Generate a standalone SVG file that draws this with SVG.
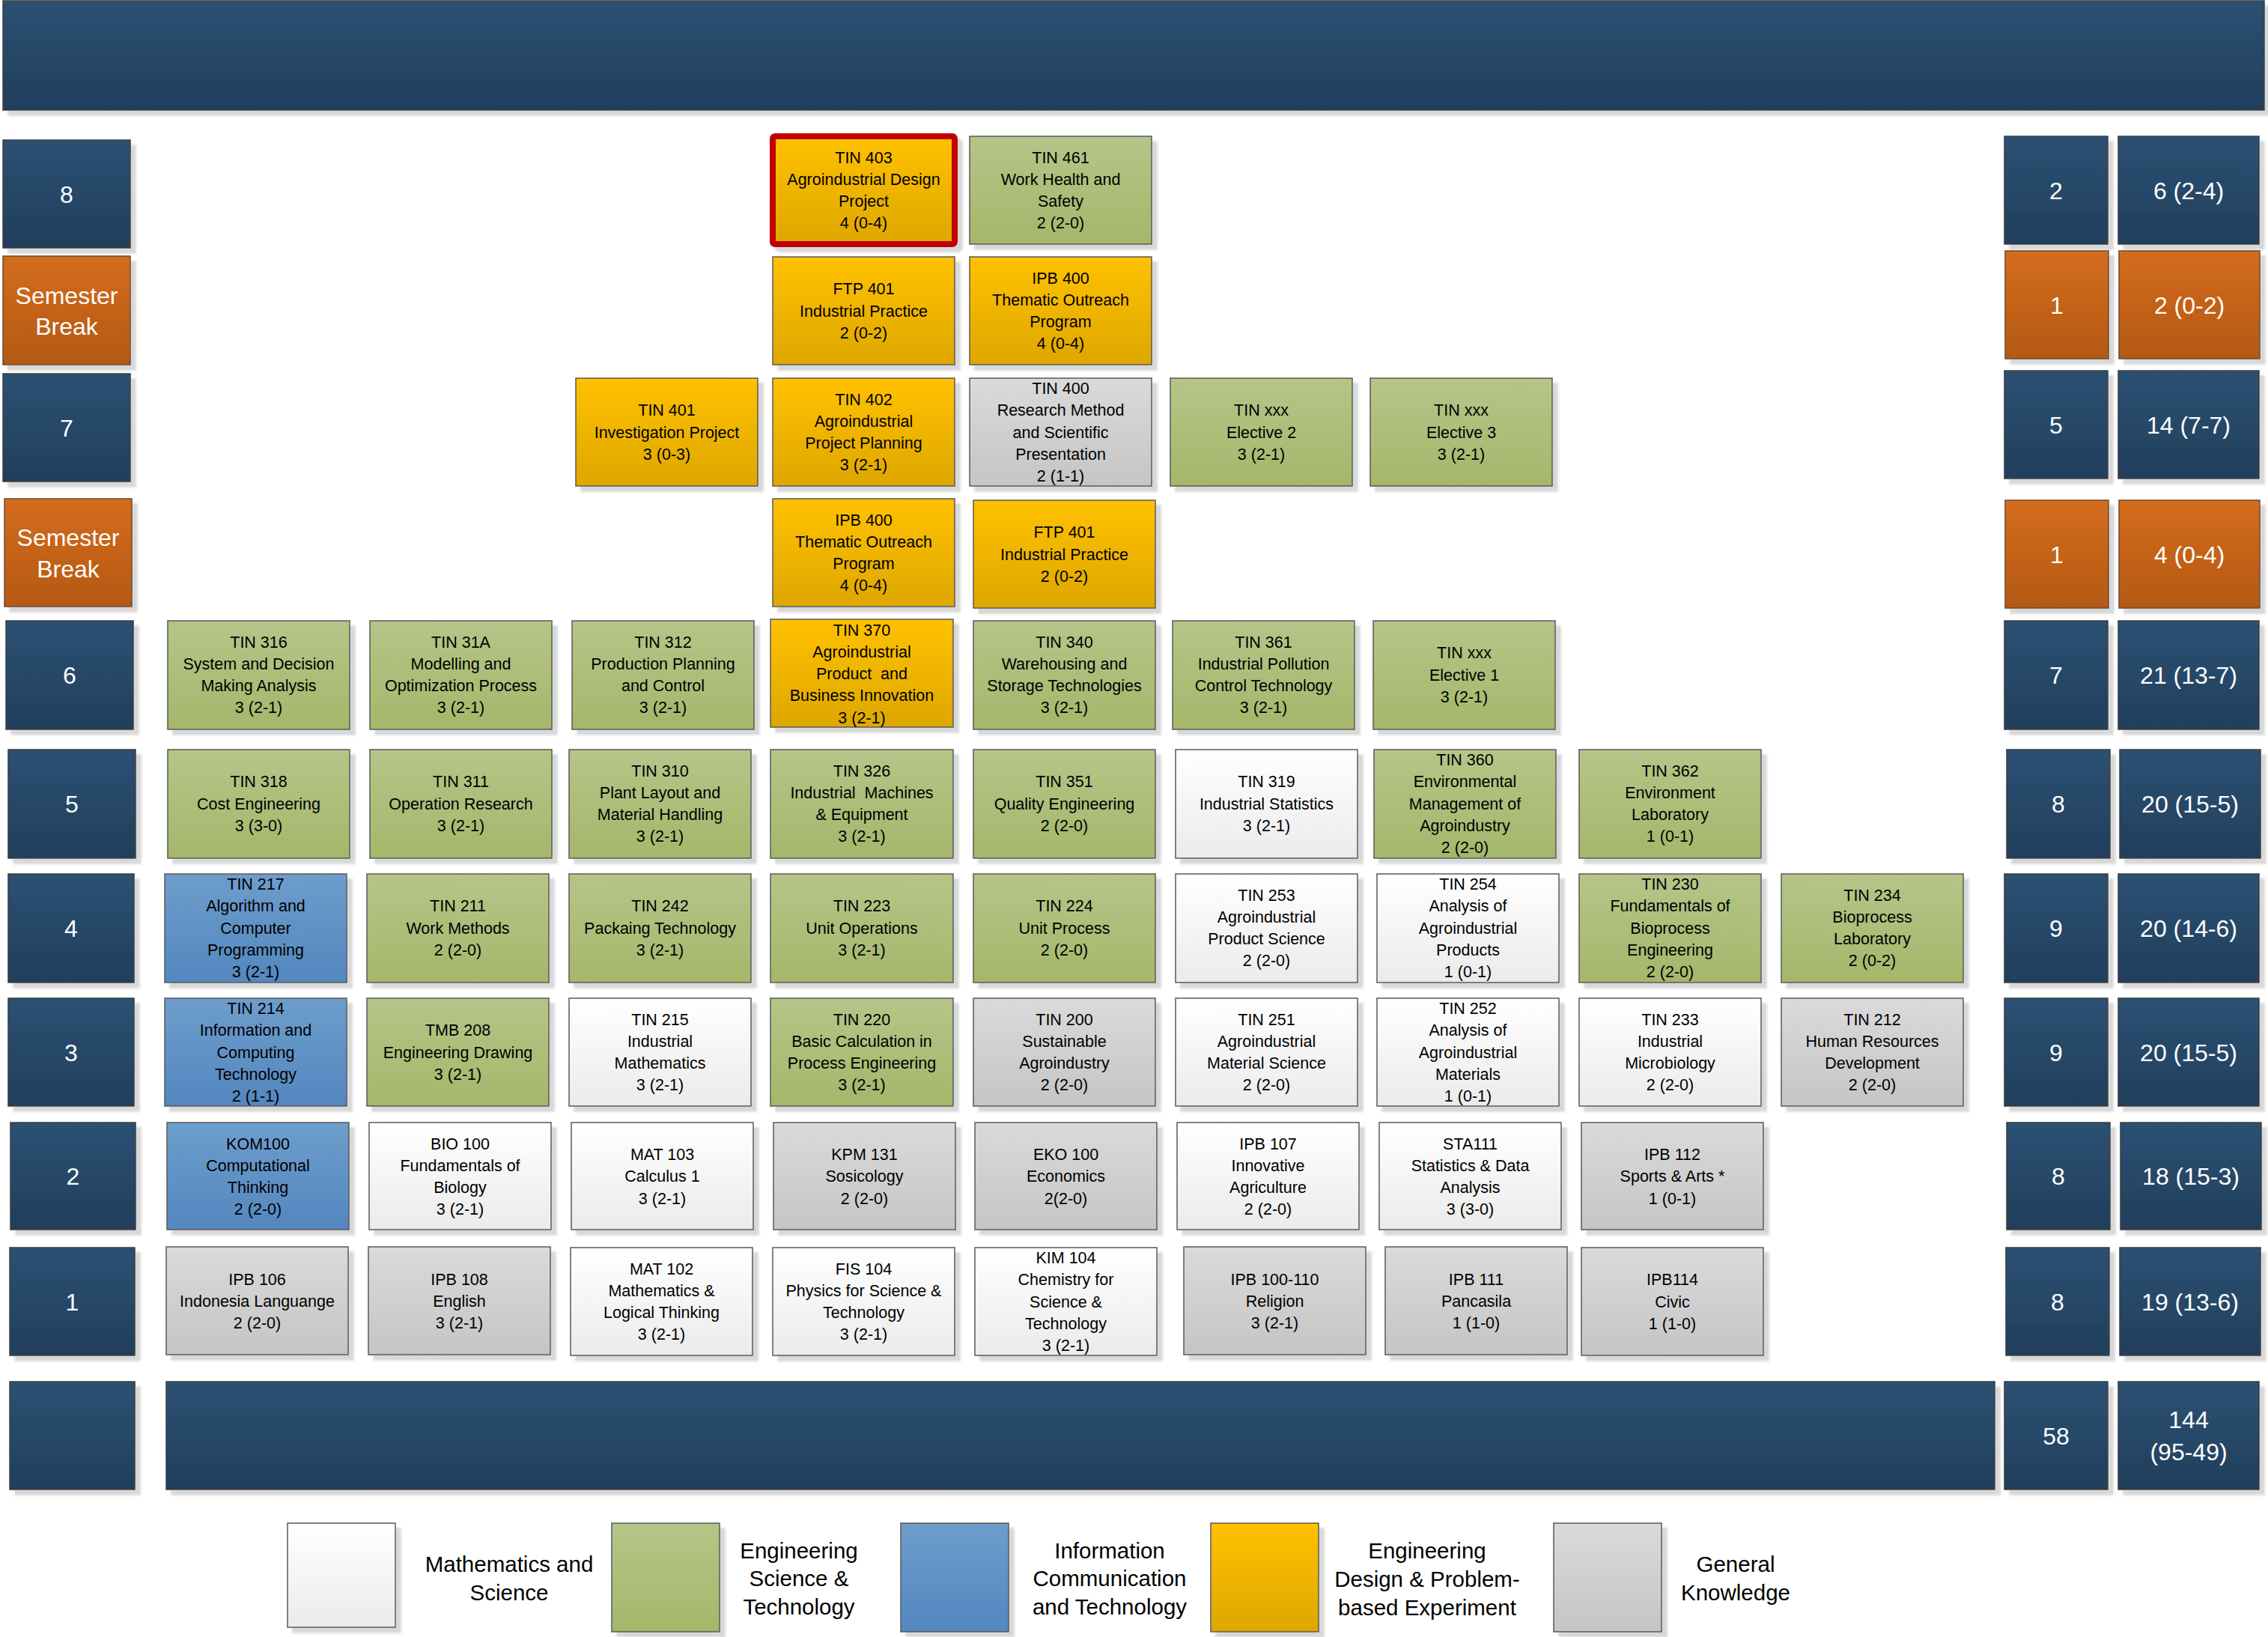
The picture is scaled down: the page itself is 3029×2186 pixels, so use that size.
<svg xmlns="http://www.w3.org/2000/svg" width="3029" height="2186" viewBox="0 0 3029 2186">
<defs>
<linearGradient id="gDb" x1="0" y1="0" x2="0" y2="1"><stop offset="0" stop-color="#2c5173"/><stop offset="1" stop-color="#213e5c"/></linearGradient>
<linearGradient id="gOr" x1="0" y1="0" x2="0" y2="1"><stop offset="0" stop-color="#d46c1b"/><stop offset="1" stop-color="#b45917"/></linearGradient>
<linearGradient id="gYe" x1="0" y1="0" x2="0" y2="1"><stop offset="0" stop-color="#ffc100"/><stop offset="1" stop-color="#dea700"/></linearGradient>
<linearGradient id="gGr" x1="0" y1="0" x2="0" y2="1"><stop offset="0" stop-color="#b5c588"/><stop offset="1" stop-color="#a4b76a"/></linearGradient>
<linearGradient id="gBl" x1="0" y1="0" x2="0" y2="1"><stop offset="0" stop-color="#6d9dcb"/><stop offset="1" stop-color="#5387bf"/></linearGradient>
<linearGradient id="gWh" x1="0" y1="0" x2="0" y2="1"><stop offset="0" stop-color="#ffffff"/><stop offset="1" stop-color="#ebebeb"/></linearGradient>
<linearGradient id="gGy" x1="0" y1="0" x2="0" y2="1"><stop offset="0" stop-color="#dadada"/><stop offset="1" stop-color="#c5c5c5"/></linearGradient>
<filter id="sh" x="-5%" y="-5%" width="115%" height="120%"><feDropShadow dx="7" dy="7" stdDeviation="1.5" flood-color="#b0b0b0" flood-opacity="0.5"/></filter>
</defs>
<style>
rect{filter:url(#sh);stroke:#5a5a5a;stroke-width:1.5}
.db{fill:url(#gDb);stroke:#3d3d3d}
.or{fill:url(#gOr);stroke:#6b4a30}
.ye{fill:url(#gYe)}
.gr{fill:url(#gGr)}
.bl{fill:url(#gBl)}
.wh{fill:url(#gWh)}
.gy{fill:url(#gGy)}
.red{stroke:#c00000;stroke-width:8}
text{font-family:"Liberation Sans",Arial,sans-serif;text-anchor:middle}
.t{font-size:21.5px;fill:#000}
.l{font-size:32px;fill:#fff}
.lg{font-size:29.5px;fill:#000}
.pre{white-space:pre}
</style>
<g id="header"><rect class="db" x="4" y="1" width="3020" height="146"/></g>

<g id="labels-left">
<g id="lbl-8"><rect class="db" x="4" y="187" width="170" height="144"/><text class="l" x="89" y="270.5">8</text></g>
<g id="lbl-sb1"><rect class="or" x="4" y="342" width="170" height="145"/><text class="l" x="89" y="405.5">Semester<tspan x="89" dy="41.7">Break</tspan></text></g>
<g id="lbl-7"><rect class="db" x="4" y="499" width="170" height="144"/><text class="l" x="89" y="582.5">7</text></g>
<g id="lbl-sb2"><rect class="or" x="6" y="666" width="170" height="144"/><text class="l" x="91" y="729">Semester<tspan x="91" dy="41.7">Break</tspan></text></g>
<g id="lbl-6"><rect class="db" x="8" y="829" width="170" height="145"/><text class="l" x="93" y="913">6</text></g>
<g id="lbl-5"><rect class="db" x="11" y="1001" width="170" height="145"/><text class="l" x="96" y="1085">5</text></g>
<g id="lbl-4"><rect class="db" x="11" y="1167" width="168" height="145"/><text class="l" x="95" y="1251">4</text></g>
<g id="lbl-3"><rect class="db" x="11" y="1333" width="168" height="144"/><text class="l" x="95" y="1416.5">3</text></g>
<g id="lbl-2"><rect class="db" x="14" y="1499" width="167" height="143"/><text class="l" x="97.5" y="1582">2</text></g>
<g id="lbl-1"><rect class="db" x="13" y="1666" width="167" height="144"/><text class="l" x="96.5" y="1749.5">1</text></g>
<g id="lbl-total"><rect class="db" x="13" y="1845" width="167" height="144"/></g>
<g id="total-bar"><rect class="db" x="222" y="1845" width="2442" height="144"/></g>
</g>

<g id="sem8">
<g id="tin403"><rect class="ye red" x="1032" y="182" width="243" height="144" rx="3"/><text class="t" x="1153.5" y="217.5">TIN 403<tspan x="1153.5" dy="29.3">Agroindustrial Design</tspan><tspan x="1153.5" dy="29.3">Project</tspan><tspan x="1153.5" dy="29.3">4 (0-4)</tspan></text></g>
<g id="tin461"><rect class="gr" x="1295" y="182" width="243" height="144"/><text class="t" x="1416.5" y="217.5">TIN 461<tspan x="1416.5" dy="29.3">Work Health and</tspan><tspan x="1416.5" dy="29.3">Safety</tspan><tspan x="1416.5" dy="29.3">2 (2-0)</tspan></text></g>
</g>

<g id="break1">
<g id="ftp401a"><rect class="ye" x="1032" y="343" width="243" height="144"/><text class="t" x="1153.5" y="393.2">FTP 401<tspan x="1153.5" dy="29.3">Industrial Practice</tspan><tspan x="1153.5" dy="29.3">2 (0-2)</tspan></text></g>
<g id="ipb400a"><rect class="ye" x="1295" y="343" width="243" height="144"/><text class="t" x="1416.5" y="378.5">IPB 400<tspan x="1416.5" dy="29.3">Thematic Outreach</tspan><tspan x="1416.5" dy="29.3">Program</tspan><tspan x="1416.5" dy="29.3">4 (0-4)</tspan></text></g>
</g>

<g id="sem7">
<g id="tin401"><rect class="ye" x="769" y="505" width="243" height="144"/><text class="t" x="890.5" y="555.2">TIN 401<tspan x="890.5" dy="29.3">Investigation Project</tspan><tspan x="890.5" dy="29.3">3 (0-3)</tspan></text></g>
<g id="tin402"><rect class="ye" x="1032" y="505" width="243" height="144"/><text class="t" x="1153.5" y="540.5">TIN 402<tspan x="1153.5" dy="29.3">Agroindustrial</tspan><tspan x="1153.5" dy="29.3">Project Planning</tspan><tspan x="1153.5" dy="29.3">3 (2-1)</tspan></text></g>
<g id="tin400"><rect class="gy" x="1295" y="505" width="243" height="144"/><text class="t" x="1416.5" y="525.9">TIN 400<tspan x="1416.5" dy="29.3">Research Method</tspan><tspan x="1416.5" dy="29.3">and Scientific</tspan><tspan x="1416.5" dy="29.3">Presentation</tspan><tspan x="1416.5" dy="29.3">2 (1-1)</tspan></text></g>
<g id="elective2"><rect class="gr" x="1563" y="505" width="243" height="144"/><text class="t" x="1684.5" y="555.2">TIN xxx<tspan x="1684.5" dy="29.3">Elective 2</tspan><tspan x="1684.5" dy="29.3">3 (2-1)</tspan></text></g>
<g id="elective3"><rect class="gr" x="1830" y="505" width="243" height="144"/><text class="t" x="1951.5" y="555.2">TIN xxx<tspan x="1951.5" dy="29.3">Elective 3</tspan><tspan x="1951.5" dy="29.3">3 (2-1)</tspan></text></g>
</g>

<g id="break2">
<g id="ipb400b"><rect class="ye" x="1032" y="666" width="243" height="144"/><text class="t" x="1153.5" y="701.5">IPB 400<tspan x="1153.5" dy="29.3">Thematic Outreach</tspan><tspan x="1153.5" dy="29.3">Program</tspan><tspan x="1153.5" dy="29.3">4 (0-4)</tspan></text></g>
<g id="ftp401b"><rect class="ye" x="1300" y="668" width="243" height="144"/><text class="t" x="1421.5" y="718.2">FTP 401<tspan x="1421.5" dy="29.3">Industrial Practice</tspan><tspan x="1421.5" dy="29.3">2 (0-2)</tspan></text></g>
</g>

<g id="sem6">
<g id="tin316"><rect class="gr" x="224" y="829" width="243" height="145"/><text class="t" x="345.5" y="864.5">TIN 316<tspan x="345.5" dy="29.3">System and Decision</tspan><tspan x="345.5" dy="29.3">Making Analysis</tspan><tspan x="345.5" dy="29.3">3 (2-1)</tspan></text></g>
<g id="tin31a"><rect class="gr" x="494" y="829" width="243" height="145"/><text class="t" x="615.5" y="864.5">TIN 31A<tspan x="615.5" dy="29.3">Modelling and</tspan><tspan x="615.5" dy="29.3">Optimization Process</tspan><tspan x="615.5" dy="29.3">3 (2-1)</tspan></text></g>
<g id="tin312"><rect class="gr" x="764" y="829" width="243" height="145"/><text class="t" x="885.5" y="864.5">TIN 312<tspan x="885.5" dy="29.3">Production Planning</tspan><tspan x="885.5" dy="29.3">and Control</tspan><tspan x="885.5" dy="29.3">3 (2-1)</tspan></text></g>
<g id="tin370"><rect class="ye" x="1029" y="827" width="244" height="144"/><text class="t" x="1151" y="848.5">TIN 370<tspan x="1151" dy="29.3">Agroindustrial</tspan><tspan class="pre" x="1151" dy="29.3">Product  and</tspan><tspan x="1151" dy="29.3">Business Innovation</tspan><tspan x="1151" dy="29.3">3 (2-1)</tspan></text></g>
<g id="tin340"><rect class="gr" x="1300" y="829" width="243" height="145"/><text class="t" x="1421.5" y="864.5">TIN 340<tspan x="1421.5" dy="29.3">Warehousing and</tspan><tspan x="1421.5" dy="29.3">Storage Technologies</tspan><tspan x="1421.5" dy="29.3">3 (2-1)</tspan></text></g>
<g id="tin361"><rect class="gr" x="1566" y="829" width="243" height="145"/><text class="t" x="1687.5" y="864.5">TIN 361<tspan x="1687.5" dy="29.3">Industrial Pollution</tspan><tspan x="1687.5" dy="29.3">Control Technology</tspan><tspan x="1687.5" dy="29.3">3 (2-1)</tspan></text></g>
<g id="elective1"><rect class="gr" x="1834" y="829" width="243" height="145"/><text class="t" x="1955.5" y="879.2">TIN xxx<tspan x="1955.5" dy="29.3">Elective 1</tspan><tspan x="1955.5" dy="29.3">3 (2-1)</tspan></text></g>
</g>

<g id="sem5">
<g id="tin318"><rect class="gr" x="224" y="1001" width="243" height="145"/><text class="t" x="345.5" y="1051.2">TIN 318<tspan x="345.5" dy="29.3">Cost Engineering</tspan><tspan x="345.5" dy="29.3">3 (3-0)</tspan></text></g>
<g id="tin311"><rect class="gr" x="494" y="1001" width="243" height="145"/><text class="t" x="615.5" y="1051.2">TIN 311<tspan x="615.5" dy="29.3">Operation Research</tspan><tspan x="615.5" dy="29.3">3 (2-1)</tspan></text></g>
<g id="tin310"><rect class="gr" x="760" y="1001" width="243" height="145"/><text class="t" x="881.5" y="1036.5">TIN 310<tspan x="881.5" dy="29.3">Plant Layout and</tspan><tspan x="881.5" dy="29.3">Material Handling</tspan><tspan x="881.5" dy="29.3">3 (2-1)</tspan></text></g>
<g id="tin326"><rect class="gr" x="1029" y="1001" width="244" height="145"/><text class="t" x="1151" y="1036.5">TIN 326<tspan class="pre" x="1151" dy="29.3">Industrial  Machines</tspan><tspan x="1151" dy="29.3">&amp; Equipment</tspan><tspan x="1151" dy="29.3">3 (2-1)</tspan></text></g>
<g id="tin351"><rect class="gr" x="1300" y="1001" width="243" height="145"/><text class="t" x="1421.5" y="1051.2">TIN 351<tspan x="1421.5" dy="29.3">Quality Engineering</tspan><tspan x="1421.5" dy="29.3">2 (2-0)</tspan></text></g>
<g id="tin319"><rect class="wh" x="1570" y="1001" width="243" height="145"/><text class="t" x="1691.5" y="1051.2">TIN 319<tspan x="1691.5" dy="29.3">Industrial Statistics</tspan><tspan x="1691.5" dy="29.3">3 (2-1)</tspan></text></g>
<g id="tin360"><rect class="gr" x="1835" y="1001" width="243" height="145"/><text class="t" x="1956.5" y="1021.9">TIN 360<tspan x="1956.5" dy="29.3">Environmental</tspan><tspan x="1956.5" dy="29.3">Management of</tspan><tspan x="1956.5" dy="29.3">Agroindustry</tspan><tspan x="1956.5" dy="29.3">2 (2-0)</tspan></text></g>
<g id="tin362"><rect class="gr" x="2109" y="1001" width="243" height="145"/><text class="t" x="2230.5" y="1036.5">TIN 362<tspan x="2230.5" dy="29.3">Environment</tspan><tspan x="2230.5" dy="29.3">Laboratory</tspan><tspan x="2230.5" dy="29.3">1 (0-1)</tspan></text></g>
</g>

<g id="sem4">
<g id="tin217"><rect class="bl" x="220" y="1167" width="243" height="145"/><text class="t" x="341.5" y="1187.9">TIN 217<tspan x="341.5" dy="29.3">Algorithm and</tspan><tspan x="341.5" dy="29.3">Computer</tspan><tspan x="341.5" dy="29.3">Programming</tspan><tspan x="341.5" dy="29.3">3 (2-1)</tspan></text></g>
<g id="tin211"><rect class="gr" x="490" y="1167" width="243" height="145"/><text class="t" x="611.5" y="1217.2">TIN 211<tspan x="611.5" dy="29.3">Work Methods</tspan><tspan x="611.5" dy="29.3">2 (2-0)</tspan></text></g>
<g id="tin242"><rect class="gr" x="760" y="1167" width="243" height="145"/><text class="t" x="881.5" y="1217.2">TIN 242<tspan x="881.5" dy="29.3">Packaing Technology</tspan><tspan x="881.5" dy="29.3">3 (2-1)</tspan></text></g>
<g id="tin223"><rect class="gr" x="1029" y="1167" width="244" height="145"/><text class="t" x="1151" y="1217.2">TIN 223<tspan x="1151" dy="29.3">Unit Operations</tspan><tspan x="1151" dy="29.3">3 (2-1)</tspan></text></g>
<g id="tin224"><rect class="gr" x="1300" y="1167" width="243" height="145"/><text class="t" x="1421.5" y="1217.2">TIN 224<tspan x="1421.5" dy="29.3">Unit Process</tspan><tspan x="1421.5" dy="29.3">2 (2-0)</tspan></text></g>
<g id="tin253"><rect class="wh" x="1570" y="1167" width="243" height="145"/><text class="t" x="1691.5" y="1202.5">TIN 253<tspan x="1691.5" dy="29.3">Agroindustrial</tspan><tspan x="1691.5" dy="29.3">Product Science</tspan><tspan x="1691.5" dy="29.3">2 (2-0)</tspan></text></g>
<g id="tin254"><rect class="wh" x="1839" y="1167" width="243" height="145"/><text class="t" x="1960.5" y="1187.9">TIN 254<tspan x="1960.5" dy="29.3">Analysis of</tspan><tspan x="1960.5" dy="29.3">Agroindustrial</tspan><tspan x="1960.5" dy="29.3">Products</tspan><tspan x="1960.5" dy="29.3">1 (0-1)</tspan></text></g>
<g id="tin230"><rect class="gr" x="2109" y="1167" width="243" height="145"/><text class="t" x="2230.5" y="1187.9">TIN 230<tspan x="2230.5" dy="29.3">Fundamentals of</tspan><tspan x="2230.5" dy="29.3">Bioprocess</tspan><tspan x="2230.5" dy="29.3">Engineering</tspan><tspan x="2230.5" dy="29.3">2 (2-0)</tspan></text></g>
<g id="tin234"><rect class="gr" x="2379" y="1167" width="243" height="145"/><text class="t" x="2500.5" y="1202.5">TIN 234<tspan x="2500.5" dy="29.3">Bioprocess</tspan><tspan x="2500.5" dy="29.3">Laboratory</tspan><tspan x="2500.5" dy="29.3">2 (0-2)</tspan></text></g>
</g>

<g id="sem3">
<g id="tin214"><rect class="bl" x="220" y="1333" width="243" height="144"/><text class="t" x="341.5" y="1353.9">TIN 214<tspan x="341.5" dy="29.3">Information and</tspan><tspan x="341.5" dy="29.3">Computing</tspan><tspan x="341.5" dy="29.3">Technology</tspan><tspan x="341.5" dy="29.3">2 (1-1)</tspan></text></g>
<g id="tmb208"><rect class="gr" x="490" y="1333" width="243" height="144"/><text class="t" x="611.5" y="1383.2">TMB 208<tspan x="611.5" dy="29.3">Engineering Drawing</tspan><tspan x="611.5" dy="29.3">3 (2-1)</tspan></text></g>
<g id="tin215"><rect class="wh" x="760" y="1333" width="243" height="144"/><text class="t" x="881.5" y="1368.5">TIN 215<tspan x="881.5" dy="29.3">Industrial</tspan><tspan x="881.5" dy="29.3">Mathematics</tspan><tspan x="881.5" dy="29.3">3 (2-1)</tspan></text></g>
<g id="tin220"><rect class="gr" x="1029" y="1333" width="244" height="144"/><text class="t" x="1151" y="1368.5">TIN 220<tspan x="1151" dy="29.3">Basic Calculation in</tspan><tspan x="1151" dy="29.3">Process Engineering</tspan><tspan x="1151" dy="29.3">3 (2-1)</tspan></text></g>
<g id="tin200"><rect class="gy" x="1300" y="1333" width="243" height="144"/><text class="t" x="1421.5" y="1368.5">TIN 200<tspan x="1421.5" dy="29.3">Sustainable</tspan><tspan x="1421.5" dy="29.3">Agroindustry</tspan><tspan x="1421.5" dy="29.3">2 (2-0)</tspan></text></g>
<g id="tin251"><rect class="wh" x="1570" y="1333" width="243" height="144"/><text class="t" x="1691.5" y="1368.5">TIN 251<tspan x="1691.5" dy="29.3">Agroindustrial</tspan><tspan x="1691.5" dy="29.3">Material Science</tspan><tspan x="1691.5" dy="29.3">2 (2-0)</tspan></text></g>
<g id="tin252"><rect class="wh" x="1839" y="1333" width="243" height="144"/><text class="t" x="1960.5" y="1353.9">TIN 252<tspan x="1960.5" dy="29.3">Analysis of</tspan><tspan x="1960.5" dy="29.3">Agroindustrial</tspan><tspan x="1960.5" dy="29.3">Materials</tspan><tspan x="1960.5" dy="29.3">1 (0-1)</tspan></text></g>
<g id="tin233"><rect class="wh" x="2109" y="1333" width="243" height="144"/><text class="t" x="2230.5" y="1368.5">TIN 233<tspan x="2230.5" dy="29.3">Industrial</tspan><tspan x="2230.5" dy="29.3">Microbiology</tspan><tspan x="2230.5" dy="29.3">2 (2-0)</tspan></text></g>
<g id="tin212"><rect class="gy" x="2379" y="1333" width="243" height="144"/><text class="t" x="2500.5" y="1368.5">TIN 212<tspan x="2500.5" dy="29.3">Human Resources</tspan><tspan x="2500.5" dy="29.3">Development</tspan><tspan x="2500.5" dy="29.3">2 (2-0)</tspan></text></g>
</g>

<g id="sem2">
<g id="kom100"><rect class="bl" x="223" y="1499" width="243" height="143"/><text class="t" x="344.5" y="1534.5">KOM100<tspan x="344.5" dy="29.3">Computational</tspan><tspan x="344.5" dy="29.3">Thinking</tspan><tspan x="344.5" dy="29.3">2 (2-0)</tspan></text></g>
<g id="bio100"><rect class="wh" x="493" y="1499" width="243" height="143"/><text class="t" x="614.5" y="1534.5">BIO 100<tspan x="614.5" dy="29.3">Fundamentals of</tspan><tspan x="614.5" dy="29.3">Biology</tspan><tspan x="614.5" dy="29.3">3 (2-1)</tspan></text></g>
<g id="mat103"><rect class="wh" x="763" y="1499" width="243" height="143"/><text class="t" x="884.5" y="1549">MAT 103<tspan x="884.5" dy="29.3">Calculus 1</tspan><tspan x="884.5" dy="29.3">3 (2-1)</tspan></text></g>
<g id="kpm131"><rect class="gy" x="1033" y="1499" width="243" height="143"/><text class="t" x="1154.5" y="1549">KPM 131<tspan x="1154.5" dy="29.3">Sosicology</tspan><tspan x="1154.5" dy="29.3">2 (2-0)</tspan></text></g>
<g id="eko100"><rect class="gy" x="1302" y="1499" width="243" height="143"/><text class="t" x="1423.5" y="1549">EKO 100<tspan x="1423.5" dy="29.3">Economics</tspan><tspan x="1423.5" dy="29.3">2(2-0)</tspan></text></g>
<g id="ipb107"><rect class="wh" x="1572" y="1499" width="243" height="143"/><text class="t" x="1693.5" y="1534.5">IPB 107<tspan x="1693.5" dy="29.3">Innovative</tspan><tspan x="1693.5" dy="29.3">Agriculture</tspan><tspan x="1693.5" dy="29.3">2 (2-0)</tspan></text></g>
<g id="sta111"><rect class="wh" x="1842" y="1499" width="243" height="143"/><text class="t" x="1963.5" y="1534.5">STA111<tspan x="1963.5" dy="29.3">Statistics &amp; Data</tspan><tspan x="1963.5" dy="29.3">Analysis</tspan><tspan x="1963.5" dy="29.3">3 (3-0)</tspan></text></g>
<g id="ipb112"><rect class="gy" x="2112" y="1499" width="243" height="143"/><text class="t" x="2233.5" y="1549">IPB 112<tspan x="2233.5" dy="29.3">Sports &amp; Arts *</tspan><tspan x="2233.5" dy="29.3">1 (0-1)</tspan></text></g>
</g>

<g id="sem1">
<g id="ipb106"><rect class="gy" x="222" y="1665" width="243" height="144"/><text class="t" x="343.5" y="1715.5">IPB 106<tspan x="343.5" dy="29.3">Indonesia Languange</tspan><tspan x="343.5" dy="29.3">2 (2-0)</tspan></text></g>
<g id="ipb108"><rect class="gy" x="492" y="1665" width="243" height="144"/><text class="t" x="613.5" y="1715.5">IPB 108<tspan x="613.5" dy="29.3">English</tspan><tspan x="613.5" dy="29.3">3 (2-1)</tspan></text></g>
<g id="mat102"><rect class="wh" x="762" y="1666" width="243" height="144"/><text class="t" x="883.5" y="1701.5">MAT 102<tspan x="883.5" dy="29.3">Mathematics &amp;</tspan><tspan x="883.5" dy="29.3">Logical Thinking</tspan><tspan x="883.5" dy="29.3">3 (2-1)</tspan></text></g>
<g id="fis104"><rect class="wh" x="1032" y="1666" width="243" height="144"/><text class="t" x="1153.5" y="1701.5">FIS 104<tspan x="1153.5" dy="29.3">Physics for Science &amp;</tspan><tspan x="1153.5" dy="29.3">Technology</tspan><tspan x="1153.5" dy="29.3">3 (2-1)</tspan></text></g>
<g id="kim104"><rect class="wh" x="1302" y="1666" width="243" height="144"/><text class="t" x="1423.5" y="1686.9">KIM 104<tspan x="1423.5" dy="29.3">Chemistry for</tspan><tspan x="1423.5" dy="29.3">Science &amp;</tspan><tspan x="1423.5" dy="29.3">Technology</tspan><tspan x="1423.5" dy="29.3">3 (2-1)</tspan></text></g>
<g id="ipb100-110"><rect class="gy" x="1581" y="1665" width="243" height="144"/><text class="t" x="1702.5" y="1715.5">IPB 100-110<tspan x="1702.5" dy="29.3">Religion</tspan><tspan x="1702.5" dy="29.3">3 (2-1)</tspan></text></g>
<g id="ipb111"><rect class="gy" x="1850" y="1665" width="243" height="144"/><text class="t" x="1971.5" y="1715.5">IPB 111<tspan x="1971.5" dy="29.3">Pancasila</tspan><tspan x="1971.5" dy="29.3">1 (1-0)</tspan></text></g>
<g id="ipb114"><rect class="gy" x="2112" y="1666" width="243" height="144"/><text class="t" x="2233.5" y="1716.2">IPB114<tspan x="2233.5" dy="29.3">Civic</tspan><tspan x="2233.5" dy="29.3">1 (1-0)</tspan></text></g>
</g>

<g id="totals-right">
<g id="tot-8a"><rect class="db" x="2677" y="182" width="138" height="144"/><text class="l" x="2746" y="265.5">2</text></g>
<g id="tot-8b"><rect class="db" x="2829" y="182" width="188" height="144"/><text class="l" x="2923" y="265.5">6 (2-4)</text></g>
<g id="tot-sb1a"><rect class="or" x="2678" y="335" width="138" height="144"/><text class="l" x="2747" y="418.5">1</text></g>
<g id="tot-sb1b"><rect class="or" x="2830" y="335" width="188" height="144"/><text class="l" x="2924" y="418.5">2 (0-2)</text></g>
<g id="tot-7a"><rect class="db" x="2677" y="495" width="138" height="144"/><text class="l" x="2746" y="578.5">5</text></g>
<g id="tot-7b"><rect class="db" x="2829" y="495" width="188" height="144"/><text class="l" x="2923" y="578.5">14 (7-7)</text></g>
<g id="tot-sb2a"><rect class="or" x="2678" y="668" width="138" height="144"/><text class="l" x="2747" y="751.5">1</text></g>
<g id="tot-sb2b"><rect class="or" x="2830" y="668" width="188" height="144"/><text class="l" x="2924" y="751.5">4 (0-4)</text></g>
<g id="tot-6a"><rect class="db" x="2677" y="829" width="138" height="145"/><text class="l" x="2746" y="913">7</text></g>
<g id="tot-6b"><rect class="db" x="2829" y="829" width="188" height="145"/><text class="l" x="2923" y="913">21 (13-7)</text></g>
<g id="tot-5a"><rect class="db" x="2680" y="1001" width="138" height="145"/><text class="l" x="2749" y="1085">8</text></g>
<g id="tot-5b"><rect class="db" x="2831" y="1001" width="188" height="145"/><text class="l" x="2925" y="1085">20 (15-5)</text></g>
<g id="tot-4a"><rect class="db" x="2677" y="1167" width="138" height="145"/><text class="l" x="2746" y="1251">9</text></g>
<g id="tot-4b"><rect class="db" x="2829" y="1167" width="188" height="145"/><text class="l" x="2923" y="1251">20 (14-6)</text></g>
<g id="tot-3a"><rect class="db" x="2677" y="1333" width="138" height="144"/><text class="l" x="2746" y="1416.5">9</text></g>
<g id="tot-3b"><rect class="db" x="2829" y="1333" width="188" height="144"/><text class="l" x="2923" y="1416.5">20 (15-5)</text></g>
<g id="tot-2a"><rect class="db" x="2680" y="1499" width="138" height="143"/><text class="l" x="2749" y="1582">8</text></g>
<g id="tot-2b"><rect class="db" x="2832" y="1499" width="188" height="143"/><text class="l" x="2926" y="1582">18 (15-3)</text></g>
<g id="tot-1a"><rect class="db" x="2679" y="1666" width="138" height="144"/><text class="l" x="2748" y="1749.5">8</text></g>
<g id="tot-1b"><rect class="db" x="2831" y="1666" width="188" height="144"/><text class="l" x="2925" y="1749.5">19 (13-6)</text></g>
<g id="tot-alla"><rect class="db" x="2677" y="1845" width="138" height="144"/><text class="l" x="2746" y="1928.5">58</text></g>
<g id="tot-allb"><rect class="db" x="2829" y="1845" width="188" height="144"/><text class="l" x="2923" y="1906.5">144<tspan x="2923" dy="43">(95-49)</tspan></text></g>
</g>

<g id="connectors"></g>

<g id="legend">
<g id="leg-math"><rect class="wh" x="384" y="2034" width="144" height="139"/><text class="lg" x="680" y="2099">Mathematics and<tspan x="680" dy="38">Science</tspan></text></g>
<g id="leg-eng"><rect class="gr" x="817" y="2034" width="144" height="145"/><text class="lg" x="1067" y="2080.5">Engineering<tspan x="1067" dy="37.5">Science &amp;</tspan><tspan x="1067" dy="37.5">Technology</tspan></text></g>
<g id="leg-ict"><rect class="bl" x="1203" y="2034" width="144" height="145"/><text class="lg" x="1482" y="2080.5">Information<tspan x="1482" dy="37.5">Communication</tspan><tspan x="1482" dy="37.5">and Technology</tspan></text></g>
<g id="leg-design"><rect class="ye" x="1617" y="2034" width="144" height="145"/><text class="lg" x="1906" y="2080.5">Engineering<tspan x="1906" dy="38">Design &amp; Problem-</tspan><tspan x="1906" dy="38">based Experiment</tspan></text></g>
<g id="leg-general"><rect class="gy" x="2075" y="2034" width="144" height="145"/><text class="lg" x="2318" y="2099">General<tspan x="2318" dy="38">Knowledge</tspan></text></g>
</g>
</svg>
